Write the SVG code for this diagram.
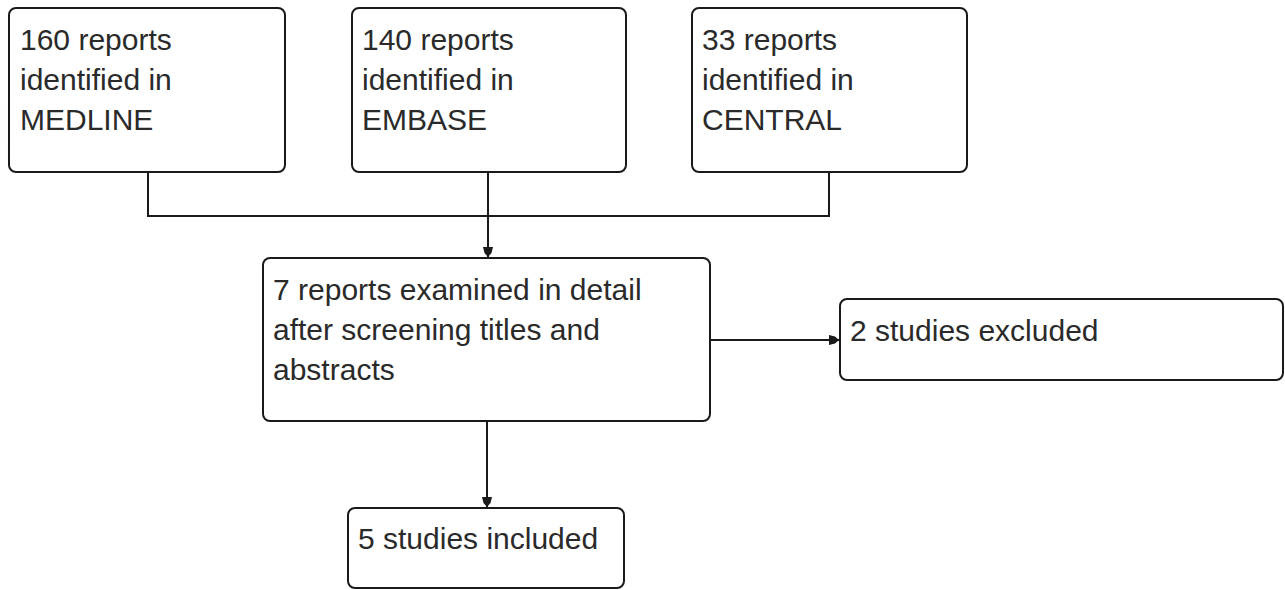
<svg xmlns="http://www.w3.org/2000/svg" width="1285" height="590" viewBox="0 0 1285 590">
<style>
.box{fill:#fff;stroke:#1a1a1a;stroke-width:2}
.t{font-family:"Liberation Sans",Arial,sans-serif;font-size:30px;fill:#2a2a2a}
.c{fill:none;stroke:#1a1a1a;stroke-width:2}
</style>
<defs>
<marker id="ah" viewBox="0 0 10 10" refX="10" refY="5" markerWidth="10" markerHeight="10" markerUnits="userSpaceOnUse" orient="auto">
<path d="M0,0 L6,1.5 L10,5 L6,8.5 L0,10 Z" fill="#1a1a1a"/>
</marker>
</defs>
<rect width="1285" height="590" fill="#fff"/>
<g id="connectors">
<path class="c" d="M148,172 V216 H829 V172"/>
<path class="c" d="M488,172 V257" marker-end="url(#ah)"/>
<path class="c" d="M710,340 H839" marker-end="url(#ah)"/>
<path class="c" d="M487,421 V507" marker-end="url(#ah)"/>
</g>
<g id="medline">
<rect class="box" x="9" y="8" width="276" height="164" rx="7"/>
<text class="t" x="20" y="50">160 reports</text>
<text class="t" x="20" y="90">identified in</text>
<text class="t" x="20" y="130">MEDLINE</text>
</g>
<g id="embase">
<rect class="box" x="352" y="8" width="274" height="164" rx="7"/>
<text class="t" x="362" y="50">140 reports</text>
<text class="t" x="362" y="90">identified in</text>
<text class="t" x="362" y="130">EMBASE</text>
</g>
<g id="central">
<rect class="box" x="692" y="8" width="275" height="164" rx="7"/>
<text class="t" x="702" y="50">33 reports</text>
<text class="t" x="702" y="90">identified in</text>
<text class="t" x="702" y="130">CENTRAL</text>
</g>
<g id="examined">
<rect class="box" x="263" y="258" width="447" height="163" rx="7"/>
<text class="t" x="273" y="300">7 reports examined in detail</text>
<text class="t" x="273" y="340">after screening titles and</text>
<text class="t" x="273" y="380">abstracts</text>
</g>
<g id="excluded">
<rect class="box" x="840" y="299" width="443" height="81" rx="7"/>
<text class="t" x="850" y="341">2 studies excluded</text>
</g>
<g id="included">
<rect class="box" x="348" y="508" width="276" height="80" rx="7"/>
<text class="t" x="358" y="549">5 studies included</text>
</g>
</svg>
